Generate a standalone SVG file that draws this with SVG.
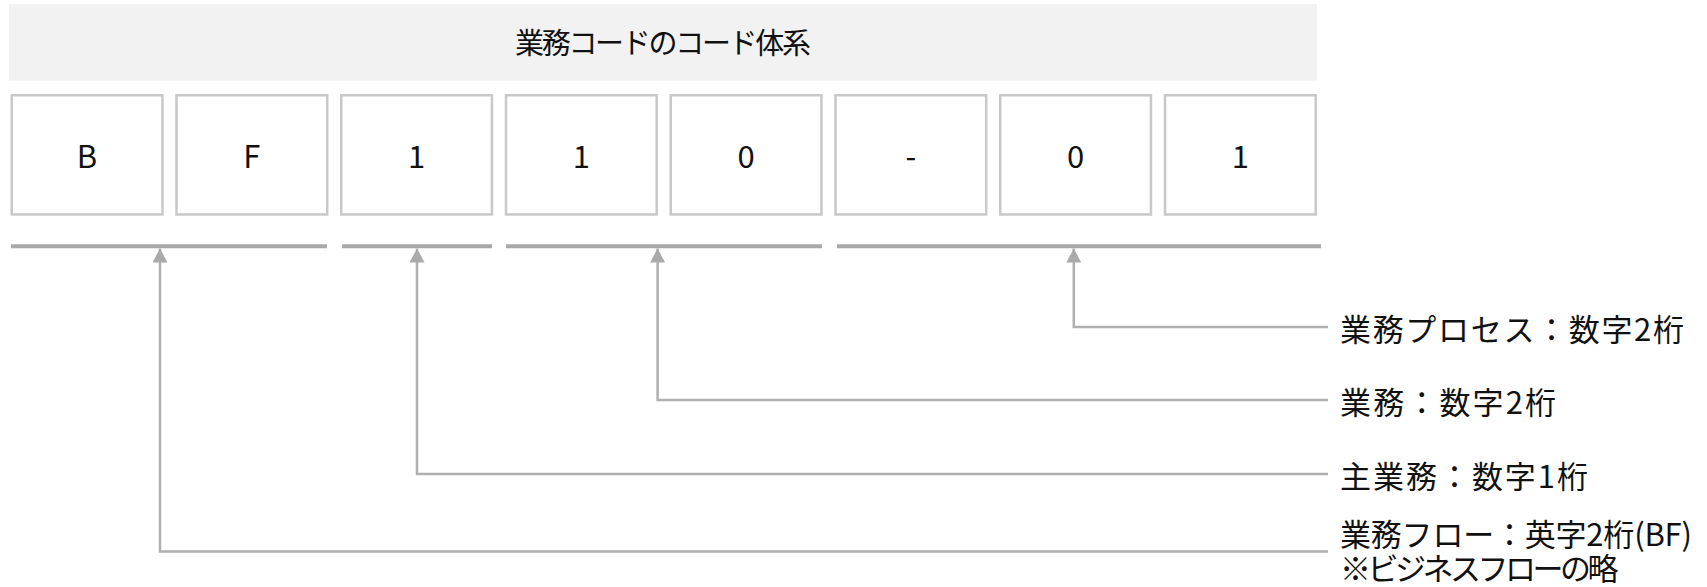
<svg xmlns="http://www.w3.org/2000/svg" width="1707" height="587" viewBox="0 0 1707 587">
<style>
.hdr{fill:#f2f2f2}
.box{fill:#ffffff;stroke:#c8c8c8;stroke-width:2.5}
.bar{stroke:#a9a9a9;stroke-width:4}
.con{fill:none;stroke:#b0b0b0;stroke-width:2.5}
text{font-family:"Noto Sans CJK JP","Noto Sans",sans-serif;fill:#111111;font-size:31px}
.c{text-anchor:middle}
.t{font-size:29px}
.l{font-size:31px}
</style>
<defs>
<marker id="arr" viewBox="0 0 14 15" refX="14" refY="7.5" markerWidth="14" markerHeight="15" markerUnits="userSpaceOnUse" orient="auto">
<path d="M0,0 L14,7.5 L0,15 z" fill="#aaaaaa"/>
</marker>
</defs>
<g id="header">
<rect class="hdr" x="9" y="4" width="1308" height="76.7"/>
<text class="c t" x="663" y="54" textLength="296" lengthAdjust="spacing">業務コードのコード体系</text>
</g>
<g id="box-B"><rect class="box" x="11.75" y="95.25" width="150.7" height="119.2"/><text class="c" x="87" y="168">B</text></g>
<g id="box-F"><rect class="box" x="176.5" y="95.25" width="150.7" height="119.2"/><text class="c" x="251.9" y="168">F</text></g>
<g id="box-1a"><rect class="box" x="341.25" y="95.25" width="150.7" height="119.2"/><text class="c" x="416.6" y="168">1</text></g>
<g id="box-1b"><rect class="box" x="506" y="95.25" width="150.7" height="119.2"/><text class="c" x="581.4" y="168">1</text></g>
<g id="box-0a"><rect class="box" x="670.75" y="95.25" width="150.7" height="119.2"/><text class="c" x="746.1" y="168">0</text></g>
<g id="box-dash"><rect class="box" x="835.5" y="95.25" width="150.7" height="119.2"/><text class="c" x="910.9" y="168">-</text></g>
<g id="box-0b"><rect class="box" x="1000.25" y="95.25" width="150.7" height="119.2"/><text class="c" x="1075.6" y="168">0</text></g>
<g id="box-1c"><rect class="box" x="1165" y="95.25" width="150.7" height="119.2"/><text class="c" x="1240.4" y="168">1</text></g>
<g id="bars">
<line class="bar" x1="11" y1="246.3" x2="327" y2="246.3"/>
<line class="bar" x1="342" y1="246.3" x2="492" y2="246.3"/>
<line class="bar" x1="506" y1="246.3" x2="822" y2="246.3"/>
<line class="bar" x1="837" y1="246.3" x2="1321" y2="246.3"/>
</g>
<g id="connectors">
<path class="con" d="M1328,327 H1073.8 V248.5" marker-end="url(#arr)"/>
<path class="con" d="M1328,400 H657.6 V248.5" marker-end="url(#arr)"/>
<path class="con" d="M1328,474 H417 V248.5" marker-end="url(#arr)"/>
<path class="con" d="M1328,551.5 H160 V248.5" marker-end="url(#arr)"/>
</g>
<g id="label-process"><text class="l" x="1340" y="341" textLength="344" lengthAdjust="spacing">業務プロセス：数字2桁</text></g>
<g id="label-gyomu"><text class="l" x="1340" y="414" textLength="216" lengthAdjust="spacing">業務：数字2桁</text></g>
<g id="label-main"><text class="l" x="1340" y="488" textLength="248" lengthAdjust="spacing">主業務：数字1桁</text></g>
<g id="label-flow"><text class="l" x="1340" y="545.5"><tspan x="1340" y="545.5" textLength="352" lengthAdjust="spacing">業務フロー：英字2桁(BF)</tspan><tspan x="1340" y="580" letter-spacing="-3.5">※ビジネスフローの略</tspan></text></g>
</svg>
